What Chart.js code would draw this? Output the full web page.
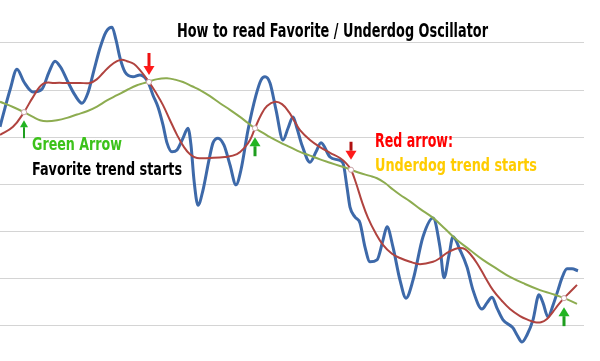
<!DOCTYPE html>
<html>
<head>
<meta charset="utf-8">
<script src="https://cdn.jsdelivr.net/npm/chart.js@4"></script>
<style>
html,body{margin:0;padding:0;background:#fff;}
#wrap{width:600px;height:361px;position:relative;}
canvas{display:block;}
</style>
</head>
<body>
<div id="wrap"><canvas id="c" width="600" height="361"></canvas></div>
<script>
// ---- data (x = day index, y = oscillator value) ----
const blueDays = [0,1.25,2.5,4.25,6,8.25,10.5,12.25,13.75,15.25,16.75,18.75,20.5,22,23.5,25,26.5,28,29,30,31.25,33.25,35,37,38.25,39.5,40.75,41.75,43,44.25,45.75,47,47.75,48.5,49.5,50.75,52.25,53.25,54.5,56,57.5,59,60.25,62,64,65.25,66.25,67.5,69,70.75,72,73.25,74.25,75.5,77.5,79,80.25,82.5,84.5,85.75,86.75,87.5,88.75,90,91.25,92.5,94.25,95.75,96.75,98.25,100,101.5,103.25,105.75,108.25,110,111,112.25,113.25,115,116.75,118.25,120.5,121.75,123,124.25,125.75,128.25,129.25,130.5,131.75,133.25,134.75,135.75,137,138.25,139.5,140.5,141.75,143,144.5];
const blueValues = [42.2,46.2,50.0,54.4,51.7,49.6,50.2,53.8,56.1,54.7,52.1,48.9,47.2,49.4,54.2,58.9,62.3,63.3,60.6,56.8,53.8,52.8,53.2,51.7,48.9,46.4,42.6,38.8,36.9,37.3,39.8,41.9,38.3,30.9,25.6,28.8,35.2,38.8,39.8,38.3,34.1,29.9,33.1,41.5,48.9,52.1,52.8,51.5,45.8,39.4,41.9,44.3,41.9,38.3,34.7,36.9,38.8,35.8,35.2,34.5,29.4,25.2,23.1,21.8,16.7,13.6,14.0,18.2,21.0,16.7,9.7,5.9,9.7,18.9,22.9,16.7,10.2,15.0,18.9,16.1,12.5,7.6,3.6,4.9,6.1,3.8,1.3,-0.4,-1.9,-3.4,-1.9,1.3,6.6,4.9,1.9,4.4,7.6,10.2,12.1,12.1,11.7];

const redDays = [0,3.25,6,8.25,10.75,13.75,16.75,20,22.5,24.25,25.75,27.5,29.25,30.5,31.75,33.5,35,37.25,39,40.75,42.5,44.25,46,47.5,49.25,52.5,56.25,59.25,61.25,62.5,63.75,65.25,66.75,68.75,70.5,72.25,73.75,75,77.5,80,82.5,85,86.5,87.75,89,90.5,92,93.75,95.75,98,100,102.5,105,108.25,110,111.75,113.75,115,116.25,117.5,119.25,121.25,123.25,125.5,127.5,130,132,133.75,135.25,136.75,138.25,139.5,141,142.5,144.25];
const redValues = [40.5,42.2,45.3,48.5,51.3,51.5,51.5,51.5,51.5,52.3,53.6,55.1,56.1,56.4,56.1,55.5,54.2,51.7,49.4,46.8,43.6,40.5,37.9,36.4,35.6,35.6,35.8,36.4,37.9,39.4,41.9,44.7,46.6,47.5,47.0,45.3,43.2,41.5,39.4,37.9,36.7,35.6,34.5,33.1,30.3,26.3,22.9,19.9,17.2,15.3,14.4,13.6,13.1,13.6,14.4,15.5,16.3,16.5,16.3,15.3,13.3,10.4,7.6,5.3,3.6,2.1,1.3,0.8,0.8,1.5,3.0,4.4,5.9,7.2,8.7];

const greenDays = [0,3.25,6,8.25,10,11.75,14.25,16.75,19.25,21.75,24.25,26.75,29.25,31.75,34.25,35.75,37.25,38.75,40,41.75,43.75,45.75,48,50,52.5,55,57.5,60,62,63.75,65.75,67.5,70,72.5,75,77.5,80,82.5,85,87.75,90,92.5,94.25,96.25,98.25,100,102.5,105,108.25,111.25,114.25,117.5,120.75,124.25,127.5,131.25,135,138,141,144.25];
const greenValues = [47.5,46.4,45.3,44.3,43.6,43.4,43.6,44.1,44.8,45.5,46.5,47.8,48.9,50.0,51.0,51.4,51.8,52.2,52.4,52.5,52.2,51.7,50.8,50.0,48.7,47.2,45.8,44.3,43.0,41.9,40.9,40.0,38.9,37.9,36.9,36.1,35.3,34.6,33.9,33.1,32.4,31.8,31.3,30.3,28.9,27.8,26.4,24.8,22.9,20.6,18.2,16.1,14.0,12.1,10.4,8.9,7.6,6.8,5.9,4.7];

// crossing signals
const crossDays = [6, 37.25, 63.75, 87.75, 141];
const crossValues = [45.3, 51.7, 41.9, 33.1, 5.9];
const crossSignals = ['favorite', 'underdog', 'favorite', 'underdog', 'favorite'];

// text
const titleText = 'How to read Favorite / Underdog Oscillator';
const greenLabel = 'Green Arrow';
const greenDesc = 'Favorite trend starts';
const redLabel = 'Red arrow:';
const redDesc = 'Underdog trend starts';

const toPts = (xs, ys) => xs.map((x, i) => ({x: x, y: ys[i]}));

const FONT = '"Liberation Sans Narrow","DejaVu Sans Condensed","Open Sans",sans-serif';

function fitText(ctx, text, x, baseline, cap, width, color) {
  const size = cap / 0.72;
  ctx.save();
  ctx.font = 'bold ' + size.toFixed(2) + 'px ' + FONT;
  const w = ctx.measureText(text).width;
  ctx.translate(x, baseline);
  ctx.scale(width / w, 1);
  ctx.fillStyle = color;
  ctx.textBaseline = 'alphabetic';
  ctx.textAlign = 'left';
  ctx.fillText(text, 0, 0);
  ctx.restore();
}

function arrow(ctx, x, tipY, tailY, headW, headL, shaftW, shaftColor, headColor) {
  const dir = tailY > tipY ? 1 : -1;
  ctx.save();
  ctx.fillStyle = shaftColor;
  const baseY = tipY + dir * headL;
  ctx.fillRect(x - shaftW / 2, Math.min(baseY, tailY), shaftW, Math.abs(tailY - baseY));
  ctx.beginPath();
  ctx.moveTo(x, tipY);
  ctx.lineTo(x - headW / 2, baseY);
  ctx.lineTo(x + headW / 2, baseY);
  ctx.closePath();
  ctx.fillStyle = headColor;
  ctx.fill();
  ctx.restore();
}

const annotPlugin = {
  id: 'annot',
  afterDatasetsDraw(chart) {
    const ctx = chart.ctx;
    const xs = chart.scales.x, ys = chart.scales.y;
    const geom = [[8, 26, 8, 7, 2], [-7, -29, 11, 9, 3], [9, 28, 11, 9, 3], [-10, -28, 11, 9, 3], [9, 28, 11, 9, 3]];
    crossDays.forEach((d, i) => {
      const px = xs.getPixelForValue(d);
      const py = ys.getPixelForValue(crossValues[i]);
      const g = geom[i];
      if (crossSignals[i] === 'favorite') {
        arrow(ctx, px, py + g[0], py + g[1], g[2], g[3], g[4], '#1f9e1f', '#22b422');
      } else {
        arrow(ctx, px, py + g[0], py + g[1], g[2], g[3], g[4], i === 3 ? '#b01010' : '#ee1111', '#ff1a1a');
      }
    });
  },
  afterDraw(chart) {
    const ctx = chart.ctx;
    fitText(ctx, titleText, 177, 37, 14.5, 311, '#000000');
    fitText(ctx, greenLabel, 32, 150, 12.5, 90, '#3cc21a');
    fitText(ctx, greenDesc, 32, 174.5, 12.5, 150, '#000000');
    fitText(ctx, redLabel, 375, 147, 13.5, 78, '#ff0000');
    fitText(ctx, redDesc, 375, 170.5, 12.8, 162, '#ffcc00');
  }
};

new Chart(document.getElementById('c'), {
  type: 'line',
  data: {
    datasets: [
      { label: 'Price', data: toPts(blueDays, blueValues), borderColor: '#3d69a9', borderWidth: 3, pointRadius: 0, cubicInterpolationMode: 'monotone', fill: false, order: 4 },
      { label: 'Fast', data: toPts(redDays, redValues), borderColor: '#b0433f', borderWidth: 2, pointRadius: 0, tension: 0.4, fill: false, order: 3 },
      { label: 'Slow', data: toPts(greenDays, greenValues), borderColor: '#8dac50', borderWidth: 2, pointRadius: 0, tension: 0.4, fill: false, order: 2 },
      { label: 'Signal', data: toPts(crossDays, crossValues), showLine: false, pointRadius: 2.6, pointBackgroundColor: '#ffffff', pointBorderColor: '#c9a3a8', pointBorderWidth: 1, order: 1 }
    ]
  },
  options: {
    responsive: false,
    animation: false,
    devicePixelRatio: 1,
    layout: { padding: { left: 0, right: 16, top: 0, bottom: 0 }, autoPadding: false },
    plugins: { legend: { display: false }, tooltip: { enabled: false }, title: { display: false } },
    scales: {
      x: { type: 'linear', min: 0, max: 146, display: false },
      y: {
        type: 'linear', min: -7.42, max: 69.07,
        ticks: { display: false, stepSize: 10, includeBounds: false },
        grid: { color: '#d4d4d4', lineWidth: 1, drawTicks: false },
        border: { display: false },
        afterFit(s) { s.width = 0; }
      }
    }
  },
  plugins: [annotPlugin]
});
</script>
</body>
</html>
